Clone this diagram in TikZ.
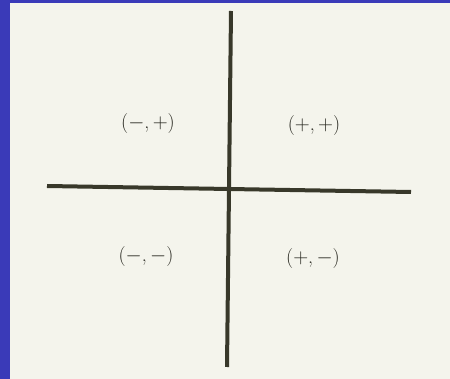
\documentclass[tikz,border=0pt]{standalone}
\begin{document}
\begin{tikzpicture}[x=1pt,y=-1pt,
  axisline/.style={line width=4pt,draw=axiscol},
  quad/.style={font=\fontsize{20}{22}\selectfont,text=labelcol,inner sep=0pt}]
\definecolor{bluebg}{HTML}{3A3AB8}
\definecolor{paper}{HTML}{F4F4EC}
\definecolor{axiscol}{HTML}{38382A}
\definecolor{labelcol}{HTML}{26261E}
\useasboundingbox (0,0) rectangle (450,379);
\fill[bluebg] (0,0) rectangle (450,379);
\fill[paper] (10,3) rectangle (450,379);
\coordinate (vtop) at (231,11);
\coordinate (vbot) at (227,367);
\coordinate (hl) at (47,186);
\coordinate (hr) at (411,192);
\draw[axisline] (hl) -- (hr);
\draw[axisline] (vtop) -- (vbot);
\node[quad] (q2) at (148,124) {(\(-\),\,\(+\))};
\node[quad] (q1) at (314,126) {(\(+\),\,\(+\))};
\node[quad] (q3) at (146,257) {(\(-\),\,\(-\))};
\node[quad] (q4) at (313,259) {(\(+\),\,\(-\))};
\end{tikzpicture}
\end{document}
